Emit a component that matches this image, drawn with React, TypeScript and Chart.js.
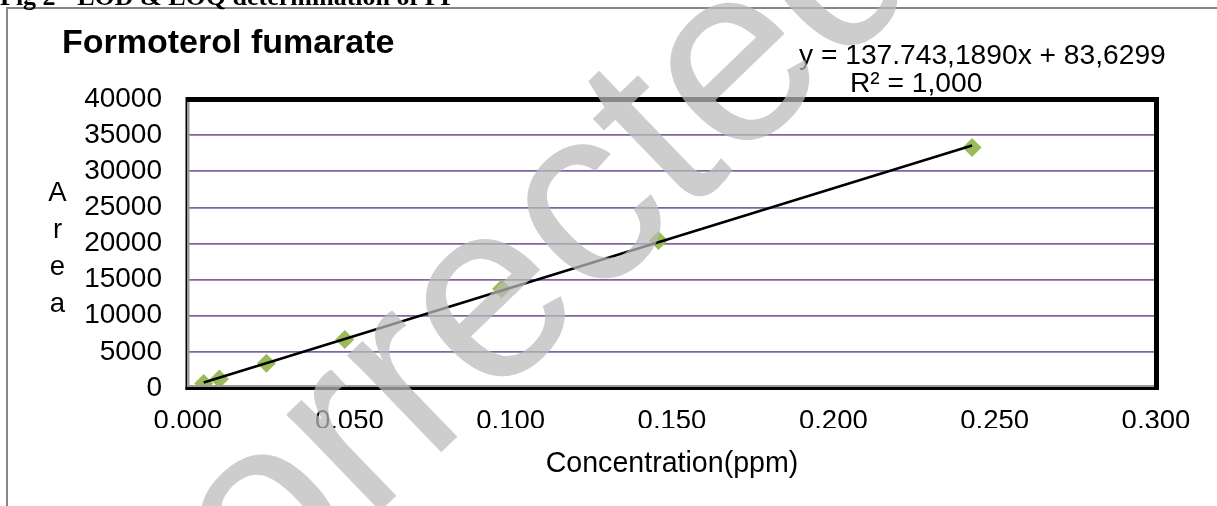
import { useEffect, useRef } from 'react';
import { Chart, registerables } from 'chart.js';

Chart.register(...registerables);

// ---- data ----
const concentrations = [0.00486, 0.00972, 0.0243, 0.0486, 0.0972, 0.1458, 0.243];
const areas = [620, 1250, 3420, 6700, 13750, 20400, 33300];
const SLOPE = 137743.189;
const INTERCEPT = 83.6299;
const xTickValues = [0, 0.05, 0.1, 0.15, 0.2, 0.25, 0.3];
const yTickValues = [0, 5000, 10000, 15000, 20000, 25000, 30000, 35000, 40000];
const CAPTION = 'Fig 2 - LOD & LOQ determination of FF';
const TITLE = 'Formoterol fumarate';
const EQUATION = 'y = 137.743,1890x + 83,6299';
const R_SQUARED = 'R² = 1,000';
const Y_TITLE_LETTERS = ['A', 'r', 'e', 'a'];
const X_TITLE = 'Concentration(ppm)';
const WATERMARK = 'Corrected';

const SANS = "'Liberation Sans', Arial, sans-serif";
const SERIF = "'Liberation Serif', 'Times New Roman', serif";

const formatConc = (v: number) => {
  const s = Number(v).toFixed(3);
  return s.split('.').join(',');
};

const decorPlugin = {
  id: 'decor',
  afterDraw(chart: any) {
    const ctx = chart.ctx as CanvasRenderingContext2D;
    const { left: L, top: T, right: R, bottom: B } = chart.chartArea;
    ctx.save();

    // outer chart frame (clipped by page)
    ctx.strokeStyle = '#868686';
    ctx.lineWidth = 2;
    ctx.beginPath();
    ctx.moveTo(7, 520);
    ctx.lineTo(7, 8);
    ctx.lineTo(1230, 8);
    ctx.stroke();

    // caption (cut off at top)
    ctx.fillStyle = '#000';
    ctx.font = `bold 26px ${SERIF}`;
    ctx.textAlign = 'left';
    ctx.textBaseline = 'alphabetic';
    ctx.fillText(CAPTION, 0, 5);

    // plot frame
    ctx.fillStyle = '#000';
    ctx.fillRect(L - 2, T - 2, R - L + 5, 5); // top
    ctx.fillRect(R - 2, T - 2, 5, B - T + 4); // right
    ctx.fillRect(L - 2.5, T - 2, 1.5, B - T + 4); // left outer
    ctx.fillRect(L - 2.5, B - 1, R - L + 5, 3); // bottom
    ctx.fillStyle = '#9a9a9a';
    ctx.fillRect(L - 1, T + 3, 2.5, B - T - 4); // left inner gray
    ctx.fillRect(L - 1, B - 3, R - L - 1, 2); // bottom inner gray

    // title
    ctx.fillStyle = '#000';
    ctx.font = `bold 34px ${SANS}`;
    ctx.textAlign = 'left';
    ctx.fillText(TITLE, 62, 53);

    // trendline label
    ctx.font = `28.2px ${SANS}`;
    ctx.fillText(EQUATION, 799, 64);
    ctx.fillText(R_SQUARED, 850, 92);

    // y axis title (stacked letters)
    ctx.font = `27.5px ${SANS}`;
    ctx.textAlign = 'center';
    Y_TITLE_LETTERS.forEach((ch, i) => ctx.fillText(ch, 57.5, 201 + i * 37));

    // x axis title
    ctx.font = `28.6px ${SANS}`;
    ctx.fillText(X_TITLE, (L + R) / 2, 472);

    // watermark
    ctx.translate(133, 750);
    ctx.rotate((-44 * Math.PI) / 180);
    ctx.font = `255px ${SANS}`;
    ctx.textAlign = 'left';
    ctx.fillStyle = 'rgba(186,186,186,0.73)';
    ctx.fillText(WATERMARK, 0, 0);

    ctx.restore();
  },
};

export default function App() {
  const ref = useRef<HTMLCanvasElement>(null);

  useEffect(() => {
    document.body.style.margin = '0';
    const points = concentrations.map((x, i) => ({ x, y: areas[i] }));
    const xFirst = concentrations[0];
    const xLast = concentrations[concentrations.length - 1];
    const trend = [
      { x: xFirst, y: SLOPE * xFirst + INTERCEPT },
      { x: xLast, y: SLOPE * xLast + INTERCEPT },
    ];

    const chart = new Chart(ref.current!, {
      type: 'scatter',
      data: {
        datasets: [
          {
            label: 'trend',
            data: trend,
            showLine: true,
            borderColor: '#000',
            borderWidth: 2.5,
            pointRadius: 0,
            order: 0,
          },
          {
            label: 'Area',
            data: points,
            pointStyle: 'rectRot',
            pointRadius: 9.5,
            backgroundColor: '#9bbb59',
            borderColor: '#9bbb59',
            borderWidth: 0,
            order: 1,
          },
        ],
      },
      options: {
        responsive: false,
        animation: false,
        devicePixelRatio: 1,
        layout: { padding: { left: 0, top: 99, right: 61, bottom: 78 } },
        plugins: { legend: { display: false }, tooltip: { enabled: false } },
        scales: {
          x: {
            type: 'linear',
            min: 0,
            max: 0.3,
            afterFit: (s: any) => { s.height = 40; },
            afterBuildTicks: (s: any) => { s.ticks = xTickValues.map((v) => ({ value: v })); },
            grid: { display: false, drawTicks: false },
            border: { display: false },
            ticks: {
              autoSkip: false,
              padding: 17,
              color: '#000',
              font: { family: SANS, size: 27.5 },
              maxRotation: 0,
              callback: (v: any) => formatConc(v),
            },
          },
          y: {
            type: 'linear',
            min: 0,
            max: 40000,
            afterFit: (s: any) => { s.width = 188; },
            afterBuildTicks: (s: any) => { s.ticks = yTickValues.map((v) => ({ value: v })); },
            grid: { color: '#8064a2', lineWidth: 1.75, drawTicks: false },
            border: { display: false },
            ticks: {
              autoSkip: false,
              padding: 26,
              color: '#000',
              font: { family: SANS, size: 28 },
              callback: (v: any) => String(v),
            },
          },
        },
      },
      plugins: [decorPlugin],
    });
    return () => chart.destroy();
  }, []);

  return (
    <div style={{ width: 1217, height: 506, position: 'relative', background: '#fff' }}>
      <canvas ref={ref} width={1217} height={506} style={{ display: 'block', width: 1217, height: 506 }} />
    </div>
  );
}
